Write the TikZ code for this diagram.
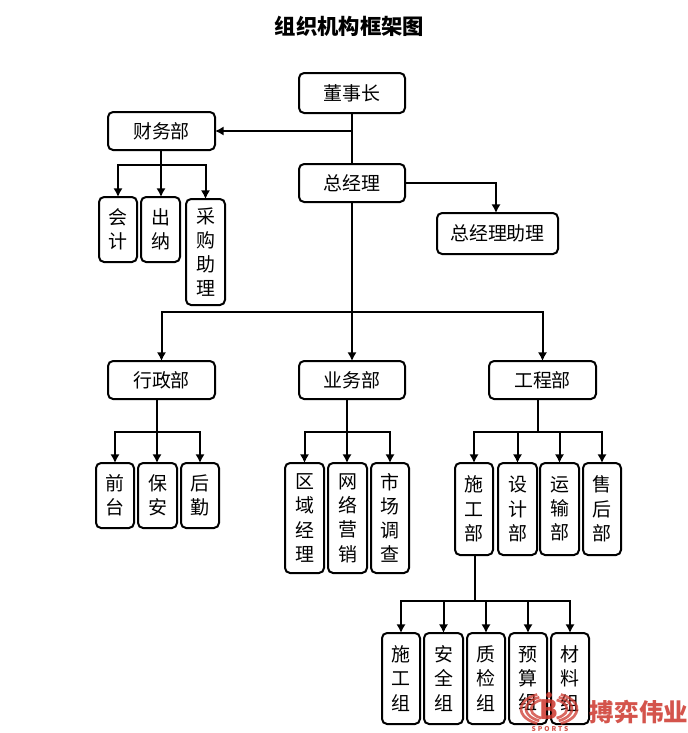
\documentclass[tikz,border=0pt]{standalone}
\usepackage{fontspec}
\setmainfont{Noto Sans CJK SC}
\usetikzlibrary{arrows.meta}
\definecolor{wm}{RGB}{205,55,45}
\tikzset{
  x=0.75pt,y=0.75pt,
  box/.style={draw=black,line width=1.5pt,rounded corners=3.8pt,fill=white,inner sep=0pt,outer sep=0pt,align=center,font=\fontsize{14.2}{18.2}\selectfont},
  conn/.style={draw=black,line width=1.5pt},
  arr/.style={conn,-{Latex[length=6.5pt,width=7pt]}},
  wmtext/.style={text=wm,text opacity=0.85,inner sep=0pt},
  wmarc/.style={draw=wm,draw opacity=0.75,line width=2pt}
}
\newcommand{\bx}[6]{\node[box,minimum width={(#4-#2)*0.75pt},minimum height={(#5-#3)*0.75pt}] (#1) at ({(#2+#4)/2},{-(#3+#5)/2}) {#6};}
\newcommand{\wmpair}[2]{%
  \draw[wmarc] ([shift={(549,-709)}]115:#1 and #2) arc[start angle=115,end angle=245,x radius=#1,y radius=#2];
  \draw[wmarc] ([shift={(549,-709)}]65:#1 and #2) arc[start angle=65,end angle=-65,x radius=#1,y radius=#2];}
\begin{document}
\begin{tikzpicture}
\useasboundingbox (0,0) rectangle (688,-733);
\fill[white] (0,0) rectangle (688,-733);
\node[inner sep=0pt,font=\fontsize{16}{18}\selectfont\bfseries] (title) at (349.5,-26) {组织机构框架图};
\bx{ceo}{299}{73}{405}{113}{董事长}
\bx{fin}{108}{112}{215}{150}{财务部}
\bx{gm}{299}{164}{405}{202}{总经理}
\bx{asst}{437}{213}{558}{254}{总经理助理}
\bx{kj}{99}{197}{137}{262}{会\\计}
\bx{cn}{141}{197}{180}{262}{出\\纳}
\bx{cg}{186}{199}{225}{305}{采\\购\\助\\理}
\bx{adm}{108}{361}{215}{399}{行政部}
\bx{biz}{299}{361}{405}{399}{业务部}
\bx{eng}{489}{361}{596}{399}{工程部}
\bx{qt}{96}{463}{134}{528}{前\\台}
\bx{ba}{138}{463}{177}{528}{保\\安}
\bx{hq}{181}{463}{219}{528}{后\\勤}
\bx{qy}{285}{463}{324}{573}{区\\域\\经\\理}
\bx{wl}{328}{463}{367}{573}{网\\络\\营\\销}
\bx{sc}{371}{463}{409}{573}{市\\场\\调\\查}
\bx{sg}{455}{463}{493}{555}{施\\工\\部}
\bx{sj}{498}{463}{537}{555}{设\\计\\部}
\bx{ys}{540}{463}{579}{555}{运\\输\\部}
\bx{sh}{583}{463}{621}{555}{售\\后\\部}
\bx{g1}{382}{633}{420}{724}{施\\工\\组}
\bx{g2}{424}{633}{463}{724}{安\\全\\组}
\bx{g3}{467}{633}{505}{724}{质\\检\\组}
\bx{g4}{509}{633}{547}{724}{预\\算\\组}
\bx{g5}{551}{633}{589}{724}{材\\料\\组}
% junctions
\coordinate (finbar) at (161,-165);
\coordinate (gmbar) at (352,-312);
\coordinate (admbar) at (157,-432);
\coordinate (bizbar) at (347,-432);
\coordinate (engbar) at (538,-432);
\coordinate (sgbar) at (475,-601);
\coordinate (asstin) at (496,-213);
% trunk
\draw[conn] (ceo.south) -- (gm.north);
\draw[arr] (ceo.south |- fin.east) -- (fin.east);
\draw[arr] (gm.east) -| (asstin);
\draw[conn] (gm.south) -- (gmbar);
\draw[arr] (gmbar) -| (adm.north);
\draw[arr] (gmbar) -- (biz.north);
\draw[arr] (gmbar) -| (eng.north);
% finance
\draw[conn] (finbar |- fin.south) -- (finbar);
\draw[arr] (finbar) -| (kj.north);
\draw[arr] (finbar) -- (finbar |- cn.north);
\draw[arr] (finbar) -| (cg.north);
% admin
\draw[conn] (admbar |- adm.south) -- (admbar);
\draw[arr] (admbar) -| (qt.north);
\draw[arr] (admbar) -- (admbar |- ba.north);
\draw[arr] (admbar) -| (hq.north);
% business
\draw[conn] (bizbar |- biz.south) -- (bizbar);
\draw[arr] (bizbar) -| (qy.north);
\draw[arr] (bizbar) -- (bizbar |- wl.north);
\draw[arr] (bizbar) -| (sc.north);
% engineering
\draw[conn] (engbar |- eng.south) -- (engbar);
\draw[arr] (engbar) -| (sg.north);
\draw[arr] (engbar) -| (sj.north);
\draw[arr] (engbar) -| (ys.north);
\draw[arr] (engbar) -| (sh.north);
% construction
\draw[conn] (sgbar |- sg.south) -- (sgbar);
\draw[arr] (sgbar) -| (g1.north);
\draw[arr] (sgbar) -| (g2.north);
\draw[arr] (sgbar) -| (g3.north);
\draw[arr] (sgbar) -| (g4.north);
\draw[arr] (sgbar) -| (g5.north);
% watermark
\wmpair{28}{16}
\wmpair{23}{13}
\wmpair{18}{10}
\fill[wm,opacity=0.8] (549,-695) circle (3);
\node[wmtext,font=\fontsize{20}{20}\selectfont\bfseries] (wmb) at (549,-710) {B};
\node[wmtext,font=\fontsize{5}{5}\selectfont\bfseries\addfontfeature{LetterSpace=30}] (wmsports) at (550,-729.5) {SPORTS};
\node[wmtext,font=\fontsize{18.4}{18.4}\selectfont\bfseries] (wmname) at (639,-712) {搏弈伟业};
\end{tikzpicture}
\end{document}
